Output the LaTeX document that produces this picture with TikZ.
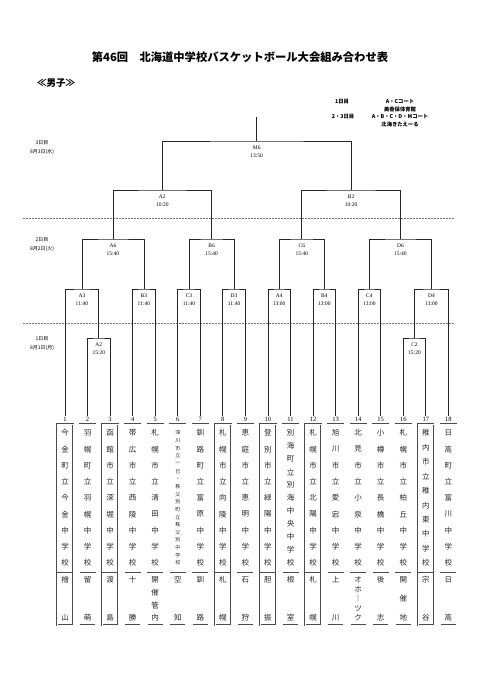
\documentclass[tikz,border=0pt]{standalone}
\usepackage{fontspec}
\setmainfont{Liberation Serif}
\newfontfamily\jp{Noto Sans CJK JP}
\usetikzlibrary{calc}
\tikzset{
  br/.style={line width=0.8pt,black!85},
  sep/.style={line width=0.7pt,black!55,dash pattern=on 2pt off 1pt},
  mlbl/.style={font=\fontsize{5.5}{8}\selectfont,align=center,inner sep=0pt},
  daylbl/.style={font=\jp\fontsize{5}{9}\selectfont,align=center,inner sep=0pt},
  info/.style={font=\jp\bfseries\fontsize{5.3}{6}\selectfont,inner sep=0pt},
  numlbl/.style={font=\fontsize{6.5}{7}\selectfont,inner sep=1pt},
  schoolframe/.style={draw=black!70,double=white,double distance=0.6pt,line width=0.35pt,minimum width=16pt,minimum height=201pt,inner sep=0pt},
  ch/.style={font=\jp\fontsize{#1}{#1}\selectfont,inner sep=0pt,text=black!85},
  ch/.default=7.5,
}
% one team column: [name size]{no}{x}{n}{name chars}{m}{area chars}
\newcommand{\schoolbox}[7][7.5]{%
  \node[schoolframe] (t#2) at (#3,524.5) {};
  \node[numlbl] (n#2) at (#3,419) {#2};
  \draw[black!70,line width=0.6pt] (#3-8,572) -- (#3+8,572);
  \foreach \c [count=\k from 0] in {#5}{\node[ch=#1] (c#2-\k) at (#3,{433+\k*130/(#4-1)}) {\c};}
  \foreach \c [count=\k from 0] in {#7}{\node[ch] (a#2-\k) at (#3,{580+\k*38/(#6-1)}) {\c};}}

\begin{document}
\begin{tikzpicture}[x=1pt,y=-1pt]
\useasboundingbox (0,0) rectangle (481,680);
\node[font=\jp\bfseries\fontsize{11.3}{12}\selectfont] (title) at (240,57) {第46回　北海道中学校バスケットボール大会組み合わせ表};
\node[font=\jp\bfseries\fontsize{9.5}{10}\selectfont] (boys) at (56,83) {≪男子≫};
\node[info] (d1)  at (342,102) {1日目};
\node[info] (c1)  at (400,102) {A・Cコート};
\node[info] (h1)  at (400,109.5) {美香保体育館};
\node[info] (d23) at (343,117) {2・3日目};
\node[info] (c23) at (400,117) {A・B・C・D・Mコート};
\node[info] (h23) at (400,124.5) {北海きたえーる};
% days
\node[daylbl] (day3) at (42,147.5) {3日目\\8月3日(水)};
\node[daylbl] (day2) at (42,245) {2日目\\8月2日(火)};
\node[daylbl] (day1) at (42,343.5) {1日目\\8月1日(月)};
\draw[sep] (23,218) -- (454,218);
\draw[sep] (23,323) -- (454,323);
% teams
\schoolbox{1}{65}{9}{今,金,町,立,今,金,中,学,校}{2}{檜,山}
\schoolbox{2}{87.55}{9}{羽,幌,町,立,羽,幌,中,学,校}{2}{留,萌}
\schoolbox{3}{110.1}{9}{函,館,市,立,深,堀,中,学,校}{2}{渡,島}
\schoolbox{4}{132.65}{9}{帯,広,市,立,西,陵,中,学,校}{2}{十,勝}
\schoolbox{5}{155.2}{9}{札,幌,市,立,清,田,中,学,校}{4}{開,催,管,内}
\schoolbox[5]{6}{177.75}{18}{深,川,市,立,一,已,・,秩,父,別,町,立,秩,父,別,中,学,校}{2}{空,知}
\schoolbox{7}{200.3}{9}{釧,路,町,立,富,原,中,学,校}{2}{釧,路}
\schoolbox{8}{222.85}{9}{札,幌,市,立,向,陵,中,学,校}{2}{札,幌}
\schoolbox{9}{245.4}{9}{恵,庭,市,立,恵,明,中,学,校}{2}{石,狩}
\schoolbox{10}{267.95}{9}{登,別,市,立,緑,陽,中,学,校}{2}{胆,振}
\schoolbox{11}{290.5}{11}{別,海,町,立,別,海,中,央,中,学,校}{2}{根,室}
\schoolbox{12}{313.05}{9}{札,幌,市,立,北,陽,中,学,校}{2}{札,幌}
\schoolbox{13}{335.6}{9}{旭,川,市,立,愛,宕,中,学,校}{2}{上,川}
\schoolbox{14}{358.15}{9}{北,見,市,立,小,泉,中,学,校}{5}{オ,ホ,｜,ツ,ク}
\schoolbox{15}{380.7}{9}{小,樽,市,立,長,橋,中,学,校}{2}{後,志}
\schoolbox{16}{403.25}{9}{札,幌,市,立,柏,丘,中,学,校}{3}{開,催,地}
\schoolbox{17}{425.8}{10}{稚,内,市,立,稚,内,東,中,学,校}{2}{宗,谷}
\schoolbox{18}{448.35}{9}{日,高,町,立,富,川,中,学,校}{2}{日,高}
% games
\coordinate (top) at (256.7,117);
\coordinate (fM6) at (256.7,141);
\coordinate (sA2) at (162.3,190);
\coordinate (sB2) at (351.1,190);
\coordinate (qA6) at (112.9,239);
\coordinate (qB6) at (211.6,239);
\coordinate (qC6) at (301.8,239);
\coordinate (qD6) at (400.4,239);
\coordinate (rA3) at (81.9,289);
\coordinate (rB3) at (143.9,289);
\coordinate (rC3) at (189.0,289);
\coordinate (rD3) at (234.1,289);
\coordinate (rA4) at (279.2,289);
\coordinate (rB4) at (324.3,289);
\coordinate (rC4) at (369.4,289);
\coordinate (rD4) at (431.4,289);
\coordinate (pA2) at (98.8,338);
\coordinate (pC2) at (414.5,338);
\foreach \m/\a/\tm in {fM6/M6/13:50,sA2/A2/10:20,sB2/B2/10:20,
  qA6/A6/15:40,qB6/B6/15:40,qC6/C6/15:40,qD6/D6/15:40,
  rA3/A3/11:40,rB3/B3/11:40,rC3/C3/11:40,rD3/D3/11:40,
  rA4/A4/13:00,rB4/B4/13:00,rC4/C4/13:00,rD4/D4/13:00,
  pA2/A2/15:20,pC2/C2/15:20}{\node[mlbl] (l\m) at ($(\m)+(0,10.5)$) {\a\\\tm};}
% lines
\draw[br] (top) -- (fM6);
\draw[br] (sA2) |- (fM6) -| (sB2);
\draw[br] (qA6) |- (sA2) -| (qB6);
\draw[br] (qC6) |- (sB2) -| (qD6);
\draw[br] (rA3) |- (qA6) -| (rB3);
\draw[br] (rC3) |- (qB6) -| (rD3);
\draw[br] (rA4) |- (qC6) -| (rB4);
\draw[br] (rC4) |- (qD6) -| (rD4);
\draw[br] (n1.north) |- (rA3) -| (pA2);
\draw[br] (n2.north) |- (pA2) -| (n3.north);
\draw[br] (n4.north) |- (rB3) -| (n5.north);
\draw[br] (n6.north) |- (rC3) -| (n7.north);
\draw[br] (n8.north) |- (rD3) -| (n9.north);
\draw[br] (n10.north) |- (rA4) -| (n11.north);
\draw[br] (n12.north) |- (rB4) -| (n13.north);
\draw[br] (n14.north) |- (rC4) -| (n15.north);
\draw[br] (pC2) |- (rD4) -| (n18.north);
\draw[br] (n16.north) |- (pC2) -| (n17.north);
\end{tikzpicture}
\end{document}
